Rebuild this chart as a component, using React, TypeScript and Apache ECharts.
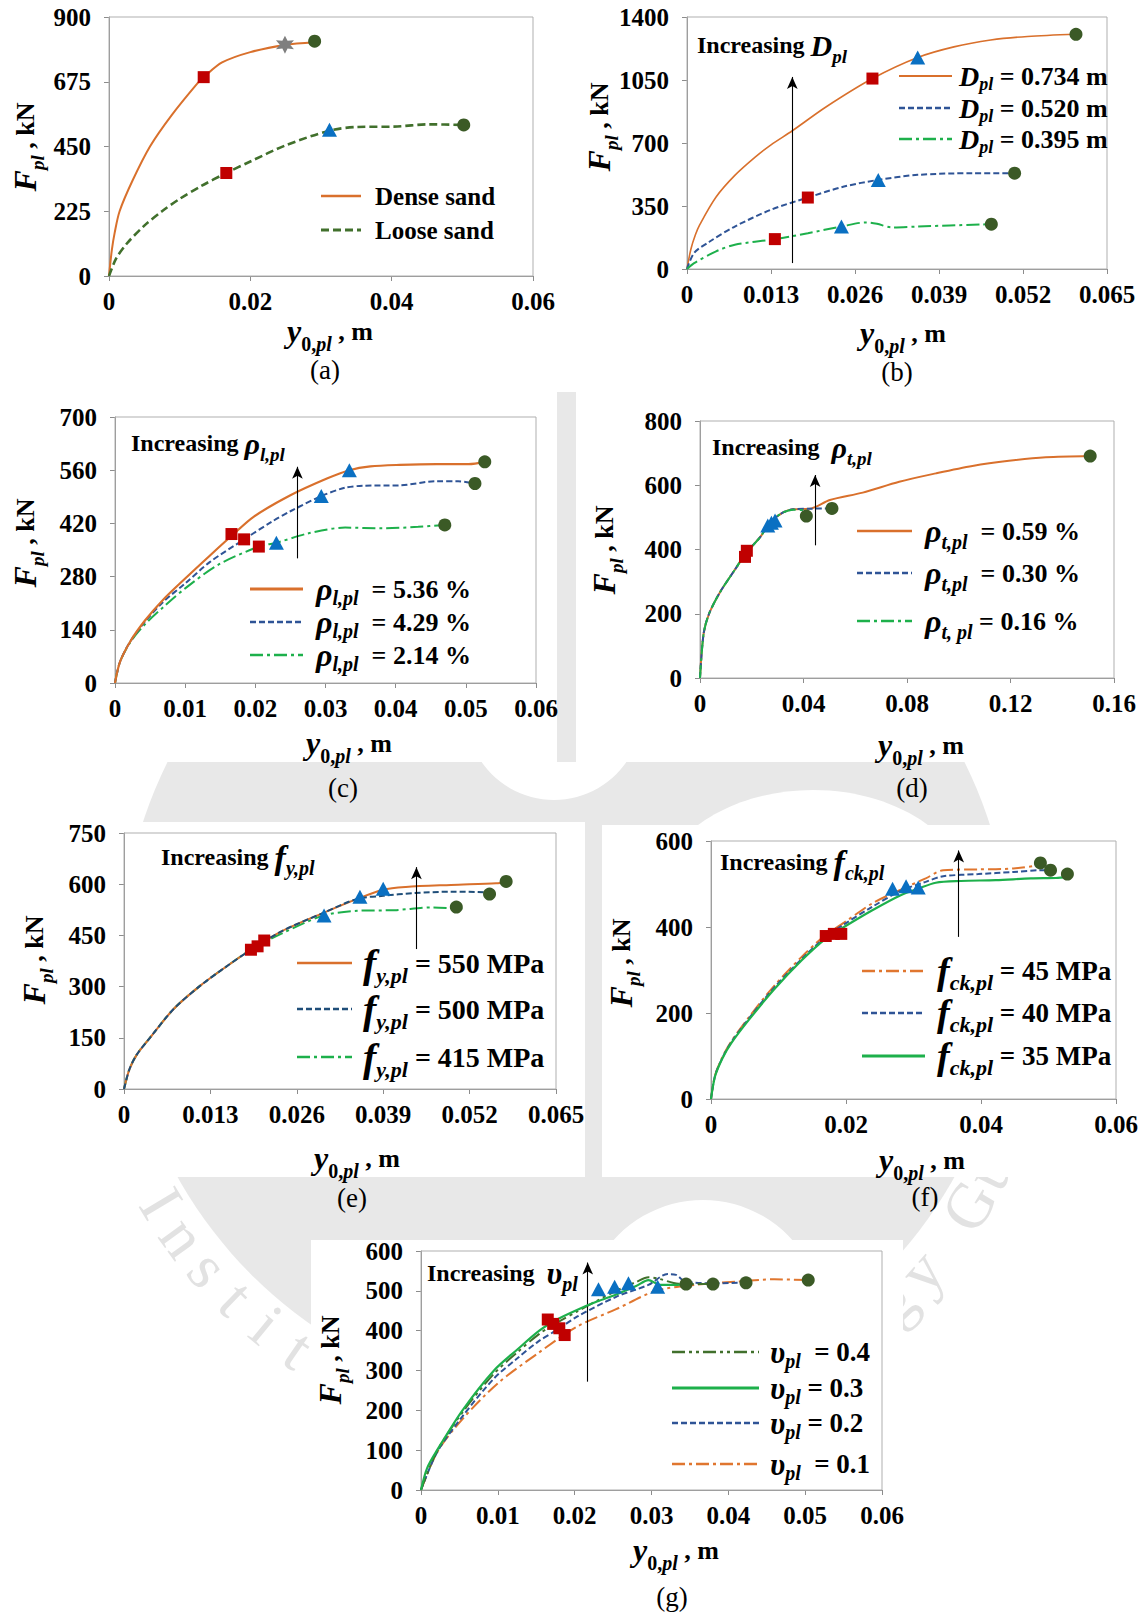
import { useEffect, useRef } from "react";
import * as echarts from "echarts";

const SERIF = "'Liberation Serif', 'Times New Roman', Times, serif";

const ORANGE = "#D9702C";
const BLUE = "#2F5496";
const GREEN = "#1DB04B";
const OLIVE = "#41702C";
const RED = "#C00000";
const TRI_BLUE = "#0A70C2";
const DOT_GREEN = "#3B5A26";
const STAR_GREY = "#7F7F7F";
const WATERMARK = "#E8E8E8";

// ---------- (a) sand density ----------
const denseSand = [[0, 0], [0.0004, 90], [0.0008, 150], [0.0015, 225], [0.0033, 330], [0.0058, 450], [0.0089, 560], [0.0126, 672], [0.0134, 691], [0.016, 742], [0.02, 778], [0.0249, 803], [0.0291, 812]];
const looseSand = [[0, 0], [0.001, 60], [0.0025, 112], [0.005, 175], [0.0075, 225], [0.01, 268], [0.013, 312], [0.0166, 358], [0.02, 398], [0.025, 454], [0.0312, 505], [0.0352, 518], [0.0403, 519], [0.0453, 527], [0.0502, 525]];
const aSquares = [[0.0134, 691], [0.0166, 358]];
const aTriangles = [[0.0312, 508]];
const aCircles = [[0.0291, 816], [0.0502, 525]];
const aStars = [[0.0249, 804]];

// ---------- (b) pile diameter ----------
const d734 = [[0, 0], [0.0006, 110], [0.0013, 190], [0.002, 248], [0.0045, 400], [0.0074, 520], [0.0105, 620], [0.013, 690], [0.0163, 768], [0.0215, 900], [0.0287, 1058], [0.0357, 1175], [0.0413, 1234], [0.047, 1272], [0.0527, 1292], [0.0602, 1304]];
const d520 = [[0, 0], [0.0011, 89], [0.0034, 150], [0.0074, 236], [0.013, 329], [0.0187, 397], [0.0243, 458], [0.0296, 495], [0.0357, 523], [0.0442, 532], [0.0507, 532]];
const d395 = [[0, 0], [0.0011, 33], [0.0045, 98], [0.0074, 135], [0.0136, 166], [0.0187, 199], [0.0239, 236], [0.0277, 259], [0.0294, 251], [0.0317, 231], [0.0357, 236], [0.0471, 249]];
const bSquares = [[0.0136, 166], [0.0187, 397], [0.0287, 1058]];
const bTriangles = [[0.0239, 236], [0.0296, 495], [0.0357, 1175]];
const bCircles = [[0.0471, 249], [0.0507, 532], [0.0602, 1304]];
const bArrow = [0.0163, 33, 1067];

// ---------- (c) longitudinal reinforcement ----------
const rl536 = [[0, 0], [0.0007, 55], [0.0022, 110], [0.0043, 165], [0.0069, 220], [0.01, 275], [0.0135, 335], [0.0169, 392], [0.0198, 438], [0.025, 494], [0.0302, 538], [0.0334, 560], [0.0364, 570], [0.0406, 574], [0.0458, 576], [0.0504, 576], [0.0527, 582]];
const rl429 = [[0, 0], [0.0007, 55], [0.0022, 110], [0.0043, 162], [0.0069, 214], [0.01, 262], [0.0135, 318], [0.0184, 378], [0.0224, 425], [0.025, 452], [0.0294, 492], [0.0328, 514], [0.0354, 519], [0.0406, 520], [0.0458, 531], [0.0489, 531], [0.0513, 525]];
const rl214 = [[0, 0], [0.0007, 55], [0.0022, 108], [0.0043, 155], [0.0069, 200], [0.01, 249], [0.0147, 311], [0.0205, 359], [0.023, 369], [0.0276, 394], [0.0328, 409], [0.038, 407], [0.0432, 411], [0.047, 416]];
const cSquares = [[0.0166, 392], [0.0184, 378], [0.0205, 359]];
const cTriangles = [[0.023, 369], [0.0294, 492], [0.0334, 560]];
const cCircles = [[0.047, 416], [0.0513, 525], [0.0527, 582]];
const cArrow = [0.026, 328, 569];

// ---------- (d) transverse reinforcement ----------
const rt059 = [[0, 0], [0.0014, 138], [0.0035, 200], [0.0078, 268], [0.0134, 336], [0.0177, 388], [0.0233, 439], [0.0269, 483], [0.0318, 514], [0.036, 525], [0.0431, 528], [0.0502, 554], [0.0629, 577], [0.077, 611], [0.0912, 637], [0.1053, 660], [0.1194, 676], [0.1336, 687], [0.1508, 691]];
const rt030 = [[0, 0], [0.0014, 138], [0.0035, 200], [0.0078, 268], [0.0134, 336], [0.0177, 388], [0.0233, 439], [0.0269, 483], [0.0318, 514], [0.036, 525], [0.0431, 527], [0.0488, 528], [0.051, 528]];
const rt016 = [[0, 0], [0.0014, 138], [0.0035, 200], [0.0078, 268], [0.0134, 336], [0.0177, 388], [0.0233, 439], [0.0269, 483], [0.0318, 514], [0.036, 524], [0.041, 522]];
const dSquares = [[0.0174, 377], [0.0181, 396]];
const dTriangles = [[0.0262, 475], [0.0276, 483], [0.029, 490]];
const dCircles = [[0.0411, 504], [0.051, 528], [0.1508, 691]];
const dArrow = [0.0445, 413, 632];

// ---------- (e) steel yield strength ----------
const fy550 = [[0, 0], [0.0008, 57], [0.0019, 100], [0.0039, 150], [0.0075, 235], [0.0113, 300], [0.0152, 356], [0.0191, 408], [0.0237, 462], [0.03, 516], [0.0351, 557], [0.039, 584], [0.0424, 592], [0.0492, 598], [0.056, 603], [0.0575, 606]];
const fy500 = [[0, 0], [0.0008, 57], [0.0019, 100], [0.0039, 150], [0.0075, 235], [0.0113, 300], [0.0152, 356], [0.0191, 408], [0.0237, 462], [0.03, 516], [0.0351, 557], [0.039, 566], [0.0436, 574], [0.0492, 578], [0.0543, 576], [0.055, 572]];
const fy415 = [[0, 0], [0.0008, 57], [0.0019, 100], [0.0039, 150], [0.0075, 235], [0.0113, 300], [0.0152, 356], [0.0191, 408], [0.0237, 455], [0.03, 508], [0.0351, 522], [0.0407, 524], [0.0464, 532], [0.0509, 528]];
const eSquares = [[0.0191, 408], [0.0201, 418], [0.0211, 435]];
const eTriangles = [[0.0301, 508], [0.0355, 563], [0.039, 587]];
const eCircles = [[0.05, 533], [0.055, 571], [0.0575, 608]];
const eArrow = [0.044, 410, 650];

// ---------- (f) concrete strength ----------
const fck45 = [[0, 0], [0.0006, 55], [0.0017, 98], [0.003, 134], [0.0056, 190], [0.0093, 262], [0.0134, 330], [0.017, 382], [0.0197, 410], [0.0239, 455], [0.0281, 487], [0.0318, 513], [0.0344, 532], [0.0396, 534], [0.0448, 536], [0.0485, 544], [0.0488, 548]];
const fck40 = [[0, 0], [0.0006, 54], [0.0017, 96], [0.003, 132], [0.0056, 187], [0.0093, 258], [0.0134, 325], [0.017, 377], [0.0197, 406], [0.0239, 447], [0.0281, 484], [0.0318, 505], [0.0344, 518], [0.0396, 523], [0.0448, 528], [0.049, 532], [0.0503, 532]];
const fck35 = [[0, 0], [0.0006, 53], [0.0017, 95], [0.003, 130], [0.0056, 184], [0.0093, 254], [0.0134, 322], [0.017, 373], [0.0197, 400], [0.0239, 439], [0.0281, 474], [0.0307, 489], [0.0333, 503], [0.037, 507], [0.0422, 509], [0.0474, 513], [0.0511, 514], [0.0528, 516]];
const fSquares = [[0.017, 379], [0.0182, 384], [0.0193, 384]];
const fTriangles = [[0.0269, 489], [0.0289, 495], [0.0307, 492]];
const fCircles = [[0.0488, 549], [0.0503, 532], [0.0528, 523]];
const fArrow = [0.0367, 377, 578];

// ---------- (g) Poisson's ratio ----------
const nu04 = [[0, 0], [0.0021, 98], [0.0054, 195], [0.0095, 292], [0.0125, 345], [0.0154, 392], [0.0177, 420], [0.0203, 448], [0.0229, 475], [0.0254, 500], [0.028, 522], [0.0296, 534], [0.031, 530], [0.0335, 518], [0.038, 517]];
const nu03 = [[0, 0], [0.0008, 55], [0.0021, 100], [0.0054, 200], [0.0095, 300], [0.0125, 352], [0.0154, 400], [0.0177, 428], [0.0203, 452], [0.0229, 473], [0.0254, 491], [0.028, 512], [0.0296, 527], [0.0311, 515], [0.0332, 515], [0.0345, 517]];
const nu02 = [[0, 0], [0.0021, 95], [0.0054, 185], [0.0095, 280], [0.0125, 330], [0.0152, 372], [0.0177, 402], [0.0203, 435], [0.0254, 485], [0.0296, 515], [0.0321, 542], [0.0332, 540], [0.0344, 523], [0.0383, 519], [0.0423, 521]];
const nu01 = [[0, 0], [0.0021, 95], [0.0054, 178], [0.01, 268], [0.0152, 343], [0.0203, 410], [0.0254, 454], [0.0306, 500], [0.0357, 515], [0.0409, 523], [0.046, 529], [0.0504, 527]];
const gSquares = [[0.0165, 428], [0.0172, 417], [0.018, 406], [0.0187, 389]];
const gTriangles = [[0.0231, 504], [0.0252, 510], [0.027, 519], [0.0308, 510]];
const gCircles = [[0.0345, 517], [0.038, 517], [0.0423, 520], [0.0504, 527]];
const gArrow = [0.0217, 272, 571];

const WATERMARK_TEXT = "Indian Institute of Technology Guwahati";

function mkRich(big: number, sub: number, norm: number, drop: number) {
  const base = { fontFamily: SERIF, fill: "#000", fontWeight: "bold" };
  return {
    b: { ...base, fontStyle: "italic", fontSize: big },
    s: { ...base, fontStyle: "italic", fontSize: sub, padding: [drop, 0, 0, 0] },
    r: { ...base, fontStyle: "normal", fontSize: sub, padding: [drop, 0, 0, 0] },
    n: { ...base, fontStyle: "normal", fontSize: norm },
  };
}

const SOLID = "solid";
const DASH = [6, 3];
const LONG_DASH = [8, 4];
const DASH_DOT = [13, 4, 3, 4];
const DASH_DOT_DOT = [13, 4, 3, 4, 3, 4];

type Curve = { name: string; data: number[][]; color: string; width: number; dash: any; z: number; label: string };
type Panel = {
  grid: { left: number; top: number; width: number; height: number };
  x: [number, number];
  y: [number, number];
  curves: Curve[];
  squares: number[][];
  triangles: number[][];
  circles: number[][];
  stars?: number[][];
  arrow: number[] | null;
  yTitle: [number, number];
  xTitle: [number, number];
  tag: [number, number, string];
  legend: { x1: number; x2: number; tx: number; ys: number[]; rich: any };
  note: { x: number; y: number; text: string; rich: any } | null;
};

const panels: Panel[] = [
  {
    grid: { left: 109, top: 17, width: 424, height: 259 },
    x: [0.06, 0.02], y: [900, 225],
    curves: [
      { name: "Dense sand", data: denseSand, color: ORANGE, width: 2, dash: SOLID, z: 3, label: "{n|Dense sand}" },
      { name: "Loose sand", data: looseSand, color: OLIVE, width: 2.6, dash: LONG_DASH, z: 3, label: "{n|Loose sand}" },
    ],
    squares: aSquares, triangles: aTriangles, circles: aCircles, stars: aStars, arrow: null,
    yTitle: [25, 147], xTitle: [330, 331], tag: [325, 370, "(a)"],
    legend: { x1: 321, x2: 361, tx: 375, ys: [196, 230], rich: mkRich(30, 20, 25, 18) },
    note: null,
  },
  {
    grid: { left: 687, top: 17, width: 420, height: 252 },
    x: [0.065, 0.013], y: [1400, 350],
    curves: [
      { name: "Dpl 0.734", data: d734, color: ORANGE, width: 1.6, dash: SOLID, z: 3, label: "{b|D}{s|pl}{n| = 0.734 m}" },
      { name: "Dpl 0.520", data: d520, color: BLUE, width: 2, dash: DASH, z: 3, label: "{b|D}{s|pl}{n| = 0.520 m}" },
      { name: "Dpl 0.395", data: d395, color: GREEN, width: 2, dash: DASH_DOT, z: 3, label: "{b|D}{s|pl}{n| = 0.395 m}" },
    ],
    squares: bSquares, triangles: bTriangles, circles: bCircles, arrow: bArrow,
    yTitle: [599, 127], xTitle: [903, 333], tag: [897, 372, "(b)"],
    legend: { x1: 899, x2: 952, tx: 959, ys: [76, 108, 139], rich: mkRich(28, 18, 26, 16) },
    note: { x: 697, y: 45, text: "{n|Increasing }{b|D}{s|pl}", rich: mkRich(30, 19, 24, 22) },
  },
  {
    grid: { left: 115, top: 417, width: 421, height: 266 },
    x: [0.06, 0.01], y: [700, 140],
    curves: [
      { name: "rho_l 5.36", data: rl536, color: ORANGE, width: 2.2, dash: SOLID, z: 4, label: "{b|ρ}{s|l,pl}{n|  = 5.36 %}" },
      { name: "rho_l 4.29", data: rl429, color: BLUE, width: 2, dash: DASH, z: 3, label: "{b|ρ}{s|l,pl}{n|  = 4.29 %}" },
      { name: "rho_l 2.14", data: rl214, color: GREEN, width: 2, dash: DASH_DOT, z: 2, label: "{b|ρ}{s|l,pl}{n|  = 2.14 %}" },
    ],
    squares: cSquares, triangles: cTriangles, circles: cCircles, arrow: cArrow,
    yTitle: [25, 543], xTitle: [349, 743], tag: [343, 788, "(c)"],
    legend: { x1: 250, x2: 303, tx: 316, ys: [589, 622, 655], rich: mkRich(32, 20, 26, 18) },
    note: { x: 131, y: 443, text: "{n|Increasing }{b|ρ}{s|l,pl}", rich: mkRich(30, 19, 24, 22) },
  },
  {
    grid: { left: 700, top: 421, width: 414, height: 257 },
    x: [0.16, 0.04], y: [800, 200],
    curves: [
      { name: "rho_t 0.59", data: rt059, color: ORANGE, width: 2, dash: SOLID, z: 2, label: "{b|ρ}{s|t,pl}{n|  = 0.59 %}" },
      { name: "rho_t 0.30", data: rt030, color: BLUE, width: 2, dash: DASH, z: 3, label: "{b|ρ}{s|t,pl}{n|  = 0.30 %}" },
      { name: "rho_t 0.16", data: rt016, color: GREEN, width: 2, dash: DASH_DOT, z: 4, label: "{b|ρ}{s|t, pl}{n| = 0.16 %}" },
    ],
    squares: dSquares, triangles: dTriangles, circles: dCircles, arrow: dArrow,
    yTitle: [604, 550], xTitle: [921, 745], tag: [912, 788, "(d)"],
    legend: { x1: 857, x2: 912, tx: 925, ys: [531, 573, 621], rich: mkRich(32, 20, 26, 22) },
    note: { x: 712, y: 447, text: "{n|Increasing  }{b|ρ}{s|t,pl}", rich: mkRich(30, 19, 24, 22) },
  },
  {
    grid: { left: 124, top: 833, width: 432, height: 256 },
    x: [0.065, 0.013], y: [750, 150],
    curves: [
      { name: "fy 550", data: fy550, color: ORANGE, width: 2, dash: SOLID, z: 3, label: "{b|f}{s|y,pl}{n| = 550 MPa}" },
      { name: "fy 500", data: fy500, color: "#1F4E79", width: 2, dash: DASH, z: 4, label: "{b|f}{s|y,pl}{n| = 500 MPa}" },
      { name: "fy 415", data: fy415, color: GREEN, width: 2, dash: DASH_DOT, z: 2, label: "{b|f}{s|y,pl}{n| = 415 MPa}" },
    ],
    squares: eSquares, triangles: eTriangles, circles: eCircles, arrow: eArrow,
    yTitle: [34, 960], xTitle: [357, 1158], tag: [352, 1198, "(e)"],
    legend: { x1: 297, x2: 352, tx: 363, ys: [963, 1009, 1057], rich: mkRich(40, 22, 28, 24) },
    note: { x: 161, y: 857, text: "{n|Increasing }{b|f}{s|y,pl}", rich: mkRich(34, 20, 24, 22) },
  },
  {
    grid: { left: 711, top: 841, width: 405, height: 258 },
    x: [0.06, 0.02], y: [600, 200],
    curves: [
      { name: "fck 45", data: fck45, color: "#E0762F", width: 2, dash: DASH_DOT, z: 2, label: "{b|f}{s|ck,pl}{n| = 45 MPa}" },
      { name: "fck 40", data: fck40, color: BLUE, width: 2, dash: DASH, z: 3, label: "{b|f}{s|ck,pl}{n| = 40 MPa}" },
      { name: "fck 35", data: fck35, color: GREEN, width: 2.2, dash: SOLID, z: 4, label: "{b|f}{s|ck,pl}{n| = 35 MPa}" },
    ],
    squares: fSquares, triangles: fTriangles, circles: fCircles, arrow: fArrow,
    yTitle: [621, 963], xTitle: [922, 1160], tag: [925, 1197, "(f)"],
    legend: { x1: 862, x2: 925, tx: 937, ys: [971, 1013, 1056], rich: mkRich(38, 22, 27, 22) },
    note: { x: 720, y: 862, text: "{n|Increasing }{b|f}{s|ck,pl}", rich: mkRich(34, 20, 24, 22) },
  },
  {
    grid: { left: 421, top: 1251, width: 461, height: 239 },
    x: [0.06, 0.01], y: [600, 100],
    curves: [
      { name: "nu 0.4", data: nu04, color: OLIVE, width: 2, dash: DASH_DOT_DOT, z: 4, label: "{b|υ}{s|pl}{n|  = 0.4}" },
      { name: "nu 0.3", data: nu03, color: GREEN, width: 2.2, dash: SOLID, z: 5, label: "{b|υ}{s|pl}{n| = 0.3}" },
      { name: "nu 0.2", data: nu02, color: BLUE, width: 2, dash: DASH, z: 3, label: "{b|υ}{s|pl}{n| = 0.2}" },
      { name: "nu 0.1", data: nu01, color: "#E0762F", width: 2, dash: DASH_DOT, z: 2, label: "{b|υ}{s|pl}{n|  = 0.1}" },
    ],
    squares: gSquares, triangles: gTriangles, circles: gCircles, arrow: gArrow,
    yTitle: [330, 1360], xTitle: [676, 1550], tag: [672, 1597, "(g)"],
    legend: { x1: 672, x2: 759, tx: 770, ys: [1352, 1388, 1423, 1464], rich: mkRich(31, 20, 27, 18) },
    note: { x: 427, y: 1273, text: "{n|Increasing  }{b|υ}{s|pl}", rich: mkRich(32, 20, 24, 22) },
  },
];

// white backdrops behind each plot block
const backdrops = [
  [0, 0, 1143, 392],
  [0, 392, 557, 370],
  [576, 392, 567, 370],
  [0, 822, 585, 355],
  [602, 825, 541, 352],
  [311, 1240, 592, 373],
];

function starPath(): string {
  const pts: string[] = [];
  for (let k = 0; k < 12; k++) {
    const ang = (k * Math.PI) / 6 - Math.PI / 2;
    const r = k % 2 === 0 ? 10 : 5;
    pts.push(`${(10 + r * Math.cos(ang)).toFixed(2)},${(10 + r * Math.sin(ang)).toFixed(2)}`);
  }
  return "path://M" + pts.join(" L") + " Z";
}

function tickText(v: number): string {
  if (v === 0) return "0";
  return String(parseFloat(v.toFixed(3)));
}

function buildOption() {
  const axisGrey = "#8C8C8C";
  const labelStyle = { fontFamily: SERIF, fontWeight: "bold", fontSize: 25, color: "#000" };
  const grid = panels.map((p) => ({ ...p.grid, show: true, borderColor: "#AFAFAF", borderWidth: 1, backgroundColor: "transparent", z: 1 }));
  const xAxis = panels.map((p, i) => ({
    type: "value", gridIndex: i, min: 0, max: p.x[0], interval: p.x[1],
    axisLine: { show: true, onZero: false, lineStyle: { color: axisGrey, width: 1 } },
    axisTick: { show: true, inside: false, length: 5, lineStyle: { color: axisGrey } },
    splitLine: { show: false },
    axisLabel: { ...labelStyle, margin: 13, formatter: tickText, showMaxLabel: true, showMinLabel: true },
  }));
  const yAxis = panels.map((p, i) => ({
    type: "value", gridIndex: i, min: 0, max: p.y[0], interval: p.y[1],
    axisLine: { show: true, onZero: false, lineStyle: { color: axisGrey, width: 1 } },
    axisTick: { show: true, inside: false, length: 5, lineStyle: { color: axisGrey } },
    splitLine: { show: false },
    axisLabel: { ...labelStyle, margin: 18, formatter: (v: number) => String(v) },
  }));

  const series: any[] = [];
  panels.forEach((p, i) => {
    p.curves.forEach((c, k) => {
      const s: any = {
        type: "line", name: c.name, xAxisIndex: i, yAxisIndex: i, data: c.data,
        smooth: 0.3, symbol: "none", showSymbol: false, silent: true, z: c.z,
        lineStyle: { color: c.color, width: c.width, type: c.dash },
      };
      if (k === 0 && p.arrow) {
        s.markLine = {
          silent: true, symbol: ["none", "arrow"], symbolSize: [8, 12],
          lineStyle: { color: "#000", width: 1.1, type: "solid" },
          label: { show: false },
          data: [[{ coord: [p.arrow[0], p.arrow[1]] }, { coord: [p.arrow[0], p.arrow[2]] }]],
        };
      }
      series.push(s);
    });
    const marker = (data: number[][], symbol: string, size: any, color: string) => ({
      type: "scatter", xAxisIndex: i, yAxisIndex: i, data, symbol, symbolSize: size,
      itemStyle: { color, opacity: 1 }, z: 8, silent: true,
    });
    series.push(marker(p.squares, "rect", 12, RED));
    series.push(marker(p.triangles, "triangle", [15, 14], TRI_BLUE));
    series.push(marker(p.circles, "circle", 13, DOT_GREEN));
    if (p.stars) series.push(marker(p.stars, starPath(), 18, STAR_GREY));
  });

  const elements: any[] = [];
  // institute seal in the background
  elements.push({ type: "circle", z: -30, silent: true, shape: { cx: 566, cy: 960, r: 445 }, style: { fill: WATERMARK } });
  elements.push({ type: "circle", z: -29, silent: true, shape: { cx: 554, cy: 712, r: 88 }, style: { fill: "#fff" } });
  elements.push({ type: "ellipse", z: -29, silent: true, shape: { cx: 813, cy: 905, rx: 160, ry: 115 }, style: { fill: "#fff" } });
  elements.push({ type: "circle", z: -29, silent: true, shape: { cx: 703, cy: 1320, r: 120 }, style: { fill: "#fff" } });
  elements.push({ type: "rect", z: -28, silent: true, shape: { x: 550, y: 380, width: 36, height: 382 }, style: { fill: WATERMARK } });
  const chars = WATERMARK_TEXT.split("");
  chars.forEach((ch, idx) => {
    if (ch === " ") return;
    const theta = 149 + (7 - idx) * 4.9;
    const rad = (theta * Math.PI) / 180;
    elements.push({
      type: "text", z: -28, silent: true,
      x: 566 + 472 * Math.cos(rad), y: 960 + 472 * Math.sin(rad),
      rotation: (-(theta - 90) * Math.PI) / 180,
      style: { text: ch, fontFamily: SERIF, fontSize: 64, fill: "#E2E2E2", align: "center", verticalAlign: "middle" },
    });
  });
  backdrops.forEach((b) => {
    elements.push({ type: "rect", z: -20, silent: true, shape: { x: b[0], y: b[1], width: b[2], height: b[3] }, style: { fill: "#fff" } });
  });

  const yTitleRich = mkRich(32, 19, 26, 24);
  const xTitleRich = mkRich(32, 20, 26, 26);
  panels.forEach((p) => {
    elements.push({
      type: "text", z: 20, silent: true, x: p.yTitle[0], y: p.yTitle[1], rotation: Math.PI / 2,
      style: { text: "{b|F}{s|pl}{n| , kN}", rich: yTitleRich, align: "center", verticalAlign: "middle", fill: "#000" },
    });
    elements.push({
      type: "text", z: 20, silent: true, x: p.xTitle[0], y: p.xTitle[1],
      style: { text: "{b|y}{r|0,}{s|pl}{n| , m}", rich: xTitleRich, align: "center", verticalAlign: "middle", fill: "#000" },
    });
    elements.push({
      type: "text", z: 20, silent: true, x: p.tag[0], y: p.tag[1],
      style: { text: p.tag[2], fontFamily: SERIF, fontSize: 27, fill: "#000", align: "center", verticalAlign: "middle" },
    });
    if (p.note) {
      elements.push({
        type: "text", z: 20, silent: true, x: p.note.x, y: p.note.y,
        style: { text: p.note.text, rich: p.note.rich, align: "left", verticalAlign: "middle", fill: "#000" },
      });
    }
    p.curves.forEach((c, k) => {
      const ly = p.legend.ys[k];
      elements.push({
        type: "line", z: 20, silent: true,
        shape: { x1: p.legend.x1, y1: ly, x2: p.legend.x2, y2: ly },
        style: { stroke: c.color, lineWidth: c.width + 0.6, lineDash: c.dash === SOLID ? null : c.dash },
      });
      elements.push({
        type: "text", z: 20, silent: true, x: p.legend.tx, y: ly,
        style: { text: c.label, rich: p.legend.rich, align: "left", verticalAlign: "middle", fill: "#000" },
      });
    });
  });

  return {
    animation: false,
    backgroundColor: "#fff",
    grid, xAxis, yAxis, series,
    graphic: { elements },
  };
}

export default function App() {
  const ref = useRef<HTMLDivElement>(null);
  useEffect(() => {
    document.body.style.margin = "0";
    if (!ref.current) return;
    const chart = echarts.init(ref.current, undefined, { renderer: "svg" });
    chart.setOption(buildOption() as any);
    return () => chart.dispose();
  }, []);
  return <div ref={ref} style={{ width: 1143, height: 1613 }} />;
}
